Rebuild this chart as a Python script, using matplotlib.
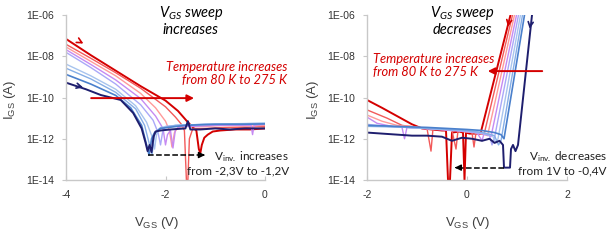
import numpy as np
import matplotlib
matplotlib.use('Agg')
import matplotlib.pyplot as plt

plt.rcParams['font.family'] = ['Lato', 'DejaVu Sans']
plt.rcParams['axes.unicode_minus'] = False
plt.rcParams['mathtext.fontset'] = 'custom'
plt.rcParams['mathtext.rm'] = 'Lato'
plt.rcParams['mathtext.it'] = 'Lato:italic'

# curve colours, 275 K (red) -> 80 K (navy)
colors = ['#d40000', '#f25a5a', '#ff9a9a', '#c68af2', '#aaa8f8',
          '#a8c4ee', '#86aee6', '#4a80cc', '#1e1e6e']
widths = [1.4, 1.0, 1.0, 1.0, 1.0, 1.0, 1.0, 1.2, 1.4]

# ---- left panel: V_GS sweep increases (values are log10 I_GS) ----
left_v = [
    [-4, -3.5, -3, -2.5, -2, -1.75, -1.55, -1.45, -1.38, -1.33, -1.3, -1.27, -1.22, -1.15, -1.05, -0.9, -0.6, -0.3, 0],
    [-4, -3.5, -3, -2.5, -2, -1.8, -1.68, -1.62, -1.58, -1.55, -1.52, -1.45, -1.2, -0.8, -0.4, 0],
    [-4, -3.5, -3, -2.5, -2.2, -2.0, -1.92, -1.87, -1.82, -1.75, -1.6, -1.2, -0.8, -0.4, 0],
    [-4, -3.5, -3, -2.5, -2.2, -2.05, -2.0, -1.96, -1.9, -1.85, -1.8, -1.7, -1.4, -1.0, -0.6, -0.28, -0.25, -0.22, 0],
    [-4, -3.5, -3, -2.5, -2.25, -2.15, -2.1, -2.06, -2.0, -1.7, -1.2, -0.6, 0],
    [-4, -3.5, -3, -2.6, -2.38, -2.27, -2.22, -2.18, -2.1, -1.8, -1.2, -0.6, 0],
    [-4, -3.5, -3, -2.6, -2.42, -2.32, -2.27, -2.22, -2.12, -1.8, -1.2, -0.6, 0],
    [-4, -3.5, -3, -2.7, -2.48, -2.38, -2.33, -2.28, -2.22, -2.1, -1.6, -1.0, -0.5, 0],
    [-4, -3.6, -3.3, -2.9, -2.65, -2.48, -2.4, -2.36, -2.32, -2.28, -2.24, -2.2, -2.1, -1.9, -1.6, -1.55, -1.5, -1.3, -1.0, -0.7, -0.4, -0.1, 0],
]
left_log = [
    [-7.16, -7.95, -8.7, -9.45, -10.15, -10.65, -11.2, -11.45, -11.6, -12.5, -12.7, -12.3, -11.95, -11.8, -11.65, -11.6, -11.55, -11.55, -11.5],
    [-7.42, -8.1, -8.8, -9.55, -10.45, -10.95, -11.3, -11.6, -14.0, -14.0, -12.0, -11.5, -11.5, -11.45, -11.45, -11.4],
    [-7.55, -8.25, -8.95, -9.8, -10.5, -11.15, -11.6, -12.4, -11.7, -11.45, -11.4, -11.4, -11.35, -11.4, -11.35],
    [-7.68, -8.4, -9.15, -10.05, -10.9, -11.5, -12.3, -11.8, -11.6, -12.45, -11.55, -11.4, -11.4, -11.35, -11.35, -11.35, -11.8, -11.35, -11.3],
    [-7.81, -8.55, -9.35, -10.35, -11.1, -11.7, -12.3, -11.7, -11.4, -11.35, -11.3, -11.3, -11.28],
    [-8.38, -8.95, -9.6, -10.4, -11.2, -11.9, -12.5, -11.8, -11.45, -11.35, -11.3, -11.28, -11.25],
    [-8.58, -9.1, -9.75, -10.55, -11.35, -12.3, -12.75, -11.8, -11.5, -11.35, -11.3, -11.27, -11.25],
    [-8.88, -9.35, -9.9, -10.5, -11.35, -12.3, -12.8, -12.0, -11.7, -11.5, -11.35, -11.3, -11.3, -11.28],
    [-9.28, -9.6, -9.88, -10.12, -10.75, -11.5, -12.2, -12.6, -12.3, -12.65, -11.9, -11.65, -11.6, -11.55, -11.5, -11.15, -11.55, -11.55, -11.5, -11.55, -11.5, -11.5, -11.5],
]

# ---- right panel: V_GS sweep decreases ----
right_v = [
    [-2, -1.7, -1.4, -1.1, -0.9, -0.7, -0.5, -0.42, -0.38, -0.34, -0.3, -0.15, -0.08, -0.05, -0.02, 0.05, 0.2, 0.27, 0.87, 0.95],
    [-2, -1.6, -1.3, -1.0, -0.8, -0.72, -0.68, -0.6, -0.3, -0.22, -0.18, -0.1, 0.1, 0.14, 0.18, 0.25, 0.34, 0.91, 0.98],
    [-2, -1.7, -1.4, -1.1, -0.8, -0.5, -0.2, 0.1, 0.3, 0.41, 0.95, 1.0],
    [-2, -1.8, -1.5, -1.3, -1.25, -1.2, -0.9, -0.6, -0.3, 0, 0.2, 0.3, 0.34, 0.4, 0.48, 0.99, 1.04],
    [-2, -1.6, -1.2, -0.8, -0.4, 0, 0.3, 0.45, 0.5, 0.55, 1.03, 1.08],
    [-2, -1.6, -1.2, -0.8, -0.4, 0, 0.3, 0.5, 0.58, 0.62, 1.07, 1.12],
    [-2, -1.6, -1.2, -0.8, -0.4, 0, 0.3, 0.55, 0.63, 0.68, 1.11, 1.16],
    [-2, -1.6, -1.2, -0.8, -0.4, 0, 0.3, 0.55, 0.68, 0.74, 1.15, 1.2],
    [-2, -1.7, -1.4, -1.1, -0.8, -0.5, -0.3, -0.1, 0.1, 0.3, 0.45, 0.55, 0.65, 0.72, 0.74, 0.8, 0.86, 0.88, 0.92, 0.97, 1.02, 1.3, 1.35],
]
right_log = [
    [-10.12, -10.5, -10.9, -11.3, -11.5, -11.55, -11.6, -11.6, -14, -14, -11.7, -11.65, -11.7, -14, -11.7, -11.75, -11.75, -11.75, -6.0, -5.5],
    [-10.6, -11.0, -11.35, -11.45, -11.5, -12.6, -11.5, -11.55, -11.6, -12.5, -11.6, -11.65, -11.7, -12.4, -11.7, -11.75, -11.8, -6.0, -5.5],
    [-10.85, -11.15, -11.35, -11.4, -11.5, -11.55, -11.6, -11.7, -11.75, -11.85, -6.0, -5.6],
    [-10.95, -11.25, -11.4, -11.45, -12.0, -11.45, -11.5, -11.55, -11.6, -11.65, -11.7, -12.1, -11.75, -11.8, -11.9, -6.0, -5.6],
    [-11.3, -11.4, -11.45, -11.5, -11.55, -11.65, -11.75, -11.85, -12.3, -11.95, -6.0, -5.6],
    [-11.35, -11.4, -11.45, -11.5, -11.55, -11.6, -11.7, -11.8, -12.2, -12.0, -6.0, -5.6],
    [-11.4, -11.42, -11.45, -11.5, -11.55, -11.6, -11.7, -11.85, -12.3, -12.1, -6.0, -5.6],
    [-11.35, -11.38, -11.42, -11.45, -11.5, -11.55, -11.6, -11.7, -11.8, -12.0, -6.0, -5.6],
    [-11.7, -11.75, -11.8, -11.85, -11.85, -11.9, -12.1, -11.95, -12.0, -12.1, -12.0, -12.2, -12.1, -12.3, -13.4, -13.4, -13.4, -12.5, -12.3, -12.6, -12.3, -6.0, -5.6],
]

yticks = [1e-14, 1e-12, 1e-10, 1e-8, 1e-6]
ytick_labels = ['1E-14', '1E-12', '1E-10', '1E-08', '1E-06']

fig = plt.figure(figsize=(6.08, 2.4), dpi=100)
axL = fig.add_axes([66/608, 60/240, 199/608, 165/240])
axR = fig.add_axes([367/608, 60/240, 200/608, 165/240])

def style(ax, xlim, xticks):
    ax.set_yscale('log')
    ax.set_ylim(1e-14, 1e-6)
    ax.set_xlim(*xlim)
    ax.set_yticks(yticks)
    ax.set_yticklabels(ytick_labels, family='Liberation Sans')
    ax.set_xticks(xticks)
    ax.set_xticklabels([str(t) for t in xticks], family='Liberation Sans')
    ax.minorticks_off()
    for s in ('top', 'right'):
        ax.spines[s].set_visible(False)
    for s in ('left', 'bottom'):
        ax.spines[s].set_color('#c8c8c8')
        ax.spines[s].set_linewidth(1.0)
    ax.tick_params(axis='y', direction='out', length=3, color='#c8c8c8', labelsize=7.5, pad=5.5, labelcolor='#333333')
    ax.tick_params(axis='x', direction='in', length=3, color='#c8c8c8', labelsize=7.5, pad=7.5, labelcolor='#333333')
    ax.set_xlabel(r'V$_{\mathregular{GS}}$ (V)', fontsize=9.5, color='#404040', family='Liberation Sans')
    ax.set_ylabel(r'I$_{\mathregular{GS}}$ (A)', fontsize=9.5, color='#404040', family='Liberation Sans')

for v, lg, c, w in zip(left_v, left_log, colors, widths):
    axL.plot(v, 10.0 ** np.array(lg), color=c, lw=w)
for v, lg, c, w in zip(right_v, right_log, colors, widths):
    axR.plot(v, 10.0 ** np.array(lg), color=c, lw=w)

style(axL, (-4, 0), [-4, -2, 0])
style(axR, (-2, 2), [-2, 0, 2])
axL.xaxis.set_label_coords(0.457, -0.215)
axR.xaxis.set_label_coords(0.505, -0.215)
axL.yaxis.set_label_coords(-0.24, 0.485)
axR.yaxis.set_label_coords(-0.23, 0.485)

red = '#d40000'
# titles
axL.text(0.628, 0.967, 'V$_{\\mathregular{GS}}$ sweep\nincreases', transform=axL.transAxes,
         ha='center', va='center', fontsize=10.5, style='italic', linespacing=1.1, clip_on=False)
axR.text(0.475, 0.967, 'V$_{\\mathregular{GS}}$ sweep\ndecreases', transform=axR.transAxes,
         ha='center', va='center', fontsize=10.5, style='italic', linespacing=1.1, clip_on=False)

# temperature notes
axL.text(1.11, 0.645, 'Temperature increases\nfrom 80 K to 275 K', transform=axL.transAxes,
         ha='right', va='center', ma='right', fontsize=9.3, style='italic', color=red, linespacing=1.15)
axR.text(0.03, 0.694, 'Temperature increases\nfrom 80 K to 275 K', transform=axR.transAxes,
         ha='left', va='center', ma='left', fontsize=9.3, style='italic', color=red, linespacing=1.15)

# V_inv notes
axL.text(1.12, 0.106, 'V$_{\\mathregular{inv.}}$ increases\nfrom -2,3V to -1,2V', transform=axL.transAxes,
         ha='right', va='center', ma='right', fontsize=8.5, color='#202020', linespacing=1.2)
axR.text(1.2, 0.103, 'V$_{\\mathregular{inv.}}$ decreases\nfrom 1V to -0,4V', transform=axR.transAxes,
         ha='right', va='center', ma='right', fontsize=8.5, color='#202020', linespacing=1.2)

# red temperature arrows
axL.annotate('', xy=(-1.37, 10**-10.03), xytext=(-3.55, 10**-10.03),
             arrowprops=dict(arrowstyle='-|>', color=red, lw=1.4, mutation_scale=10))
axR.annotate('', xy=(0.36, 10**-8.72), xytext=(1.56, 10**-8.72),
             arrowprops=dict(arrowstyle='-|>', color=red, lw=1.4, mutation_scale=10))

# dashed V_inv arrows
axL.plot([-2.35, -1.25], [10**-12.79, 10**-12.79], ls='--', color='black', lw=1.1)
axL.annotate('', xy=(-1.15, 10**-12.79), xytext=(-1.3, 10**-12.79),
             arrowprops=dict(arrowstyle='-|>', color='black', lw=1.0, mutation_scale=9))
axR.plot([0.74, -0.2], [10**-13.4, 10**-13.4], ls='--', color='black', lw=1.1)
axR.annotate('', xy=(-0.3, 10**-13.4), xytext=(-0.15, 10**-13.4),
             arrowprops=dict(arrowstyle='-|>', color='black', lw=1.0, mutation_scale=9))

# sweep-direction chevrons on curves
chev = dict(arrowstyle='->', lw=1.2, mutation_scale=9)
axL.annotate('', xy=(-3.6, 10**-7.45), xytext=(-3.75, 10**-7.25), arrowprops=dict(chev, color=red))
axL.annotate('', xy=(-3.6, 10**-9.55), xytext=(-3.8, 10**-9.42), arrowprops=dict(chev, color='#1e1e6e'))
axR.annotate('', xy=(0.81, 10**-6.7), xytext=(0.84, 10**-6.3), arrowprops=dict(chev, color=red))
axR.annotate('', xy=(1.245, 10**-6.8), xytext=(1.27, 10**-6.4), arrowprops=dict(chev, color='#1e1e6e'))

fig.savefig('out.png', dpi=100)
